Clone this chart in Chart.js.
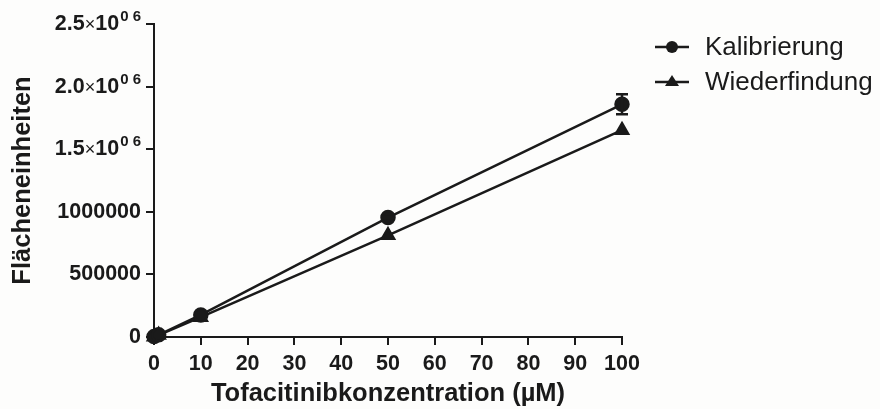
<!DOCTYPE html>
<html>
<head>
<meta charset="utf-8">
<script src="https://cdn.jsdelivr.net/npm/chart.js@4"></script>
<style>
  html, body { margin: 0; padding: 0; background: #fdfdfc; }
  #wrap { width: 880px; height: 409px; }
</style>
</head>
<body>
<div id="wrap"><canvas id="myChart"></canvas></div>
<script>
// data
var concentrations = [0, 1, 10, 50, 100];
var kalibrierung = [3000, 17000, 176000, 954000, 1859000];
var kalibrierungErr = [0, 0, 6000, 8000, 80000];
var wiederfindung = [2000, 15000, 158000, 812000, 1652000];
var yTicks = [0, 500000, 1000000, 1500000, 2000000, 2500000];
var yTickMain = ["0", "500000", "1000000", "1.5", "2.0", "2.5"];
var yTickExp = ["", "", "", "0 6", "0 6", "0 6"];
var seriesNames = ["Kalibrierung", "Wiederfindung"];

var ink = "#1a1a1a";
var font = "'Liberation Sans', Arial, sans-serif";

function toPoints(ys) {
  return concentrations.map(function (x, i) { return {x: x, y: ys[i]}; });
}

// error bars for the calibration series
var errorBars = {
  id: "errorBars",
  afterDatasetsDraw: function (chart) {
    var ctx = chart.ctx, xs = chart.scales.x, ys = chart.scales.y;
    ctx.save();
    ctx.strokeStyle = ink;
    ctx.lineWidth = 2.5;
    concentrations.forEach(function (c, i) {
      var e = kalibrierungErr[i];
      if (!e) return;
      var px = xs.getPixelForValue(c);
      var top = ys.getPixelForValue(kalibrierung[i] + e);
      var bot = ys.getPixelForValue(kalibrierung[i] - e);
      ctx.beginPath();
      ctx.moveTo(px, top); ctx.lineTo(px, bot);
      ctx.moveTo(px - 6, top); ctx.lineTo(px + 6, top);
      ctx.moveTo(px - 6, bot); ctx.lineTo(px + 6, bot);
      ctx.stroke();
    });
    ctx.restore();
  }
};

// y tick labels in the "2.5x10 0 6" style of the original
var yLabels = {
  id: "yLabels",
  afterDraw: function (chart) {
    var ctx = chart.ctx, ys = chart.scales.y;
    var right = chart.chartArea.left - 13;
    ctx.save();
    ctx.fillStyle = ink;
    ctx.textBaseline = "middle";
    ctx.textAlign = "right";
    yTicks.forEach(function (v, i) {
      var py = ys.getPixelForValue(v);
      var x = right;
      if (yTickExp[i]) {
        ctx.font = "bold 15px " + font;
        ctx.fillText(yTickExp[i], x, py - 7);
        x -= ctx.measureText(yTickExp[i]).width + 1;
        ctx.font = "bold 21.5px " + font;
        ctx.fillText("10", x, py);
        x -= ctx.measureText("10").width;
        ctx.font = "18px " + font;
        ctx.fillText("\u00d7", x, py + 1);
        x -= ctx.measureText("\u00d7").width;
      }
      ctx.font = "bold 21.5px " + font;
      ctx.fillText(yTickMain[i], x, py);
    });
    ctx.restore();
  }
};

// legend: line with marker + name
var sideLegend = {
  id: "sideLegend",
  afterDraw: function (chart) {
    var ctx = chart.ctx;
    ctx.save();
    ctx.font = "26px " + font;
    ctx.fillStyle = ink;
    ctx.strokeStyle = ink;
    ctx.textBaseline = "middle";
    var styles = ["circle", "triangle"];
    [47, 82].forEach(function (y, i) {
      ctx.lineWidth = 2.5;
      ctx.beginPath();
      ctx.moveTo(655, y); ctx.lineTo(689, y);
      ctx.stroke();
      ctx.beginPath();
      if (styles[i] === "circle") {
        ctx.arc(672, y, 6, 0, Math.PI * 2);
      } else {
        ctx.moveTo(672, y - 7); ctx.lineTo(679, y + 4); ctx.lineTo(665, y + 4); ctx.closePath();
      }
      ctx.fill();
      ctx.fillText(seriesNames[i], 705, y + 1);
    });
    ctx.restore();
  }
};

new Chart("myChart", {
  type: "line",
  data: {
    datasets: [{
      label: seriesNames[0],
      data: toPoints(kalibrierung),
      borderColor: ink,
      backgroundColor: ink,
      borderWidth: 2.5,
      pointStyle: "circle",
      pointRadius: 6.5,
      pointHoverRadius: 6.5,
      clip: false
    }, {
      label: seriesNames[1],
      data: toPoints(wiederfindung),
      borderColor: ink,
      backgroundColor: ink,
      borderWidth: 2.5,
      pointStyle: "triangle",
      pointRadius: 7,
      pointHoverRadius: 7,
      clip: false
    }]
  },
  plugins: [errorBars, yLabels, sideLegend],
  options: {
    responsive: true,
    maintainAspectRatio: false,
    animation: false,
    layout: {padding: {top: 24, right: 258, left: 8, bottom: 0}},
    plugins: {
      legend: {display: false},
      tooltip: {enabled: false}
    },
    scales: {
      x: {
        type: "linear",
        min: 0, max: 100,
        afterFit: function (axis) { axis.height = 409 - 337; },
        border: {color: ink, width: 2},
        grid: {drawOnChartArea: false, color: ink, lineWidth: 2, tickLength: 8},
        ticks: {stepSize: 10, color: ink, font: {family: font, size: 21.5, weight: "bold"}, padding: 6, maxRotation: 0},
        title: {display: true, text: "Tofacitinibkonzentration (\u00b5M)", color: ink,
                font: {family: font, size: 25.5, weight: "bold"}, padding: {top: 0, bottom: 0}}
      },
      y: {
        min: 0, max: 2500000,
        afterBuildTicks: function (axis) { axis.ticks = yTicks.map(function (v) { return {value: v}; }); },
        afterFit: function (axis) { axis.width = 154 - 8; },
        border: {color: ink, width: 2},
        grid: {drawOnChartArea: false, color: ink, lineWidth: 2, tickLength: 8},
        ticks: {display: false},
        title: {display: true, text: "Fl\u00e4cheneinheiten", color: ink,
                font: {family: font, size: 25.5, weight: "bold"}, padding: 0}
      }
    }
  }
});
</script>
</body>
</html>
